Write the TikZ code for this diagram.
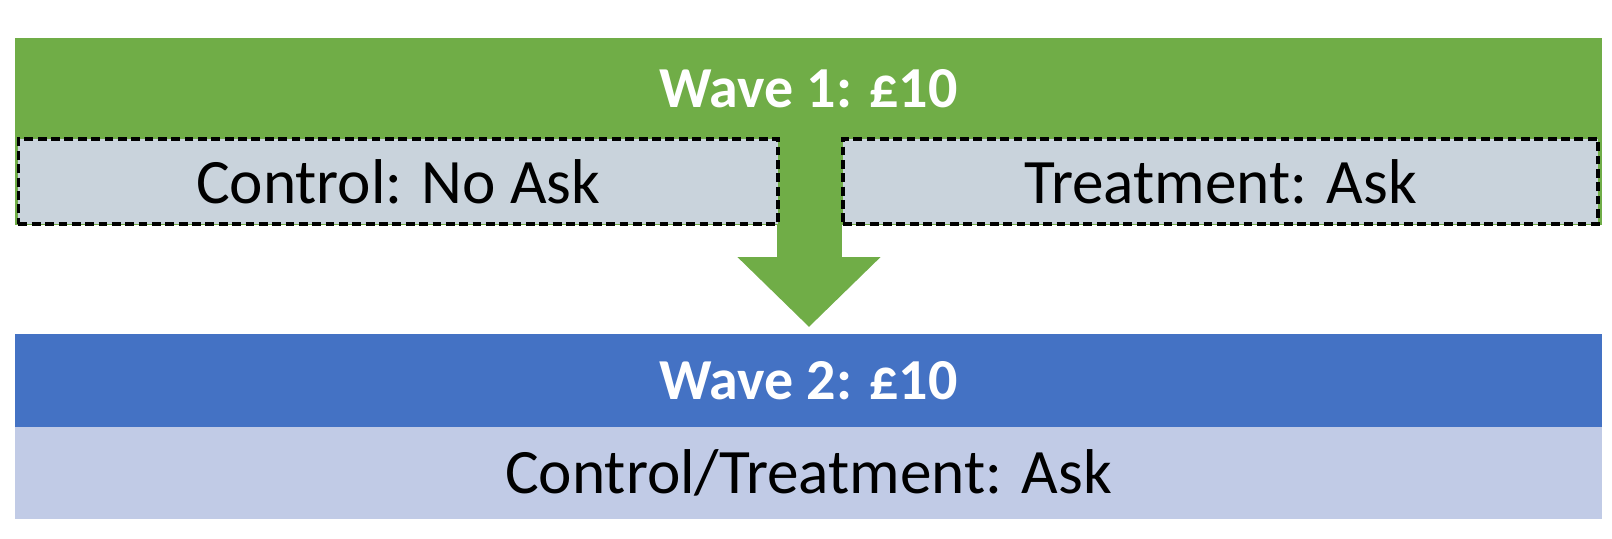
\documentclass[tikz,border=0pt]{standalone}
\usepackage{fontspec}
\setmainfont{Carlito}
\usepackage{tikz}
\usetikzlibrary{positioning, calc, arrows.meta}

\definecolor{wgreen}{HTML}{70AD47}
\definecolor{wblue}{HTML}{4472C4}
\definecolor{armfill}{HTML}{C9D3DC}
\definecolor{askfill}{HTML}{C1CBE6}

\begin{document}
\begin{tikzpicture}[
    band/.style={minimum width=31.72cm, inner sep=0pt, outer sep=0pt, text=white,
      font=\fontsize{33}{36}\selectfont\bfseries},
    armbox/.style={draw=black, dash pattern=on 5pt off 2.6pt, line width=2.1pt,
      fill=armfill, minimum height=1.7cm, inner sep=0pt, font=\fontsize{36}{40}\selectfont},
    askbox/.style={fill=askfill, minimum width=31.72cm, minimum height=1.84cm, inner sep=0pt,
      outer sep=0pt, font=\fontsize{36}{40}\selectfont}]
  \useasboundingbox (0,0) rectangle (32.24,10.76);

  % wave 1
  \node[band, fill=wgreen, minimum height=2.02cm] (wave1) at (16.17,8.99) {Wave 1: \pounds10};
  \fill[wgreen] (wave1.south west) rectangle ($(wave1.south east)+(0,-1.72)$);
  \coordinate (tip) at (16.18,4.22);
  \draw[wgreen, line width=1.3cm, -{Triangle[width=2.78cm, length=1.4cm]}] (16.18,7.5) -- (tip);
  \node[armbox, minimum width=15.19cm] (control) at (7.965,7.13) {Control: No Ask};
  \node[armbox, minimum width=15.1cm] (treat) at (24.41,7.13) {Treatment: Ask};

  % wave 2
  \node[band, fill=wblue, minimum height=1.86cm] (wave2) at (16.17,3.15) {Wave 2: \pounds10};
  \node[askbox, below=0pt of wave2] (both) {Control/Treatment: Ask};
\end{tikzpicture}
\end{document}
